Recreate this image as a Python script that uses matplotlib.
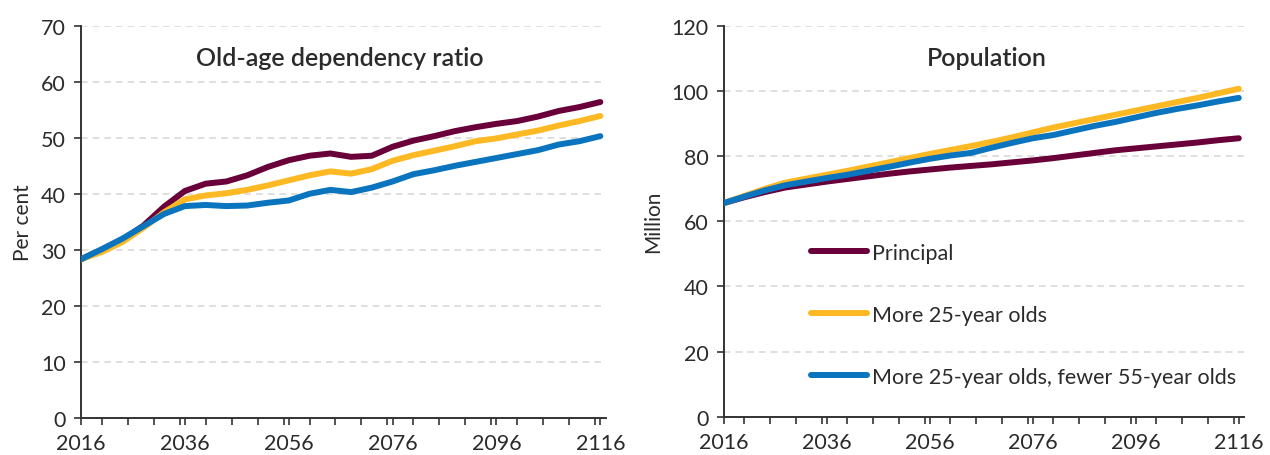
import matplotlib
matplotlib.use("Agg")
import matplotlib.pyplot as plt
from matplotlib.ticker import MultipleLocator, FixedLocator

plt.rcParams["font.family"] = ["Lato", "DejaVu Sans"]

years = list(range(2016, 2117, 4))

# Old-age dependency ratio, per cent
odr_principal = [28.3, 30.0, 31.8, 34.3, 37.7, 40.5, 41.8, 42.2, 43.3, 44.8, 46.0, 46.8, 47.2,
                 46.6, 46.8, 48.4, 49.5, 50.3, 51.2, 51.9, 52.5, 53.0, 53.8, 54.8, 55.5, 56.4]
odr_more25 = [28.3, 29.6, 31.4, 33.9, 36.7, 39.0, 39.7, 40.1, 40.7, 41.5, 42.4, 43.3, 44.0,
              43.6, 44.4, 45.9, 46.9, 47.7, 48.5, 49.4, 49.9, 50.6, 51.3, 52.2, 53.0, 53.9]
odr_more25_fewer55 = [28.3, 30.1, 32.0, 34.2, 36.4, 37.8, 38.0, 37.8, 37.9, 38.4, 38.8, 40.0, 40.7,
                      40.3, 41.1, 42.2, 43.5, 44.2, 45.0, 45.7, 46.4, 47.1, 47.8, 48.8, 49.4, 50.3]

# Population, million
pop_principal = [65.6, 67.4, 69.0, 70.4, 71.3, 72.2, 73.0, 73.8, 74.6, 75.3, 75.9, 76.5, 77.0,
                 77.5, 78.1, 78.7, 79.4, 80.2, 81.0, 81.8, 82.4, 83.0, 83.6, 84.2, 84.9, 85.5]
pop_more25 = [65.6, 67.8, 70.0, 71.9, 73.1, 74.3, 75.5, 76.8, 78.1, 79.4, 80.7, 81.9, 83.1,
              84.4, 85.8, 87.3, 88.8, 90.1, 91.4, 92.7, 94.0, 95.3, 96.6, 97.9, 99.3, 100.7]
pop_more25_fewer55 = [65.6, 67.6, 69.5, 71.1, 72.2, 73.3, 74.3, 75.5, 76.7, 78.0, 79.2, 80.2, 81.0,
                      82.6, 84.1, 85.5, 86.5, 87.9, 89.3, 90.5, 91.9, 93.3, 94.5, 95.6, 96.8, 97.9]

labels = ["Principal", "More 25-year olds", "More 25-year olds, fewer 55-year olds"]
colors = ["#6A0039", "#FDB924", "#0A74BE"]
txt = "#2b2b2b"

fig = plt.figure(figsize=(12.7, 4.56), dpi=100)
ax1 = fig.add_axes([0.0638, 0.082, 0.413, 0.859])
ax2 = fig.add_axes([0.570, 0.084, 0.4095, 0.857])


def style(ax, ymax, ystep):
    ax.set_xlim(2016, 2117)
    ax.set_ylim(0, ymax)
    ax.xaxis.set_major_locator(FixedLocator(range(2016, 2117, 20)))
    ax.xaxis.set_minor_locator(MultipleLocator(5))
    ax.tick_params(axis="x", which="both", direction="out", length=5, width=1.2,
                   color="#333333", labelsize=15.5, labelcolor=txt, pad=6)
    ax.yaxis.set_major_locator(MultipleLocator(ystep))
    ax.tick_params(axis="y", direction="out", length=5, width=1.2, color="#333333",
                   labelsize=15.5, labelcolor=txt, pad=6)
    for s in ["top", "right"]:
        ax.spines[s].set_visible(False)
    for s in ["left", "bottom"]:
        ax.spines[s].set_color("#333333")
        ax.spines[s].set_linewidth(1.4)
    for v in range(ystep, ymax + 1, ystep):
        ax.axhline(v, color="#d9d9d9", lw=1.2, ls=(0, (4, 3)), zorder=0)


series1 = [odr_principal, odr_more25, odr_more25_fewer55]
series2 = [pop_principal, pop_more25, pop_more25_fewer55]

for vals, c, lab in zip(series1, colors, labels):
    ax1.plot(years, vals, color=c, lw=4.3, solid_capstyle="round", label=lab, zorder=3)
for vals, c, lab in zip(series2, colors, labels):
    ax2.plot(years, vals, color=c, lw=4.3, solid_capstyle="round", label=lab, zorder=3)

style(ax1, 70, 10)
style(ax2, 120, 20)

ax1.set_ylabel("Per cent", fontsize=15, color=txt, labelpad=6)
ax2.set_ylabel("Million", fontsize=15, color=txt, labelpad=6)

ax1.text(0.493, 0.92, "Old-age dependency ratio", transform=ax1.transAxes,
         ha="center", va="center", fontsize=18, color=txt, fontweight="semibold")
ax2.text(0.506, 0.92, "Population", transform=ax2.transAxes,
         ha="center", va="center", fontsize=18, color=txt, fontweight="semibold")

leg = ax2.legend(loc="upper left", bbox_to_anchor=(0.167, 0.445), frameon=False,
                 fontsize=15.5, labelspacing=1.95, handlelength=2.6, handletextpad=0.25,
                 borderpad=0, borderaxespad=0)
for t in leg.get_texts():
    t.set_color(txt)

fig.savefig("out.png", dpi=100)
